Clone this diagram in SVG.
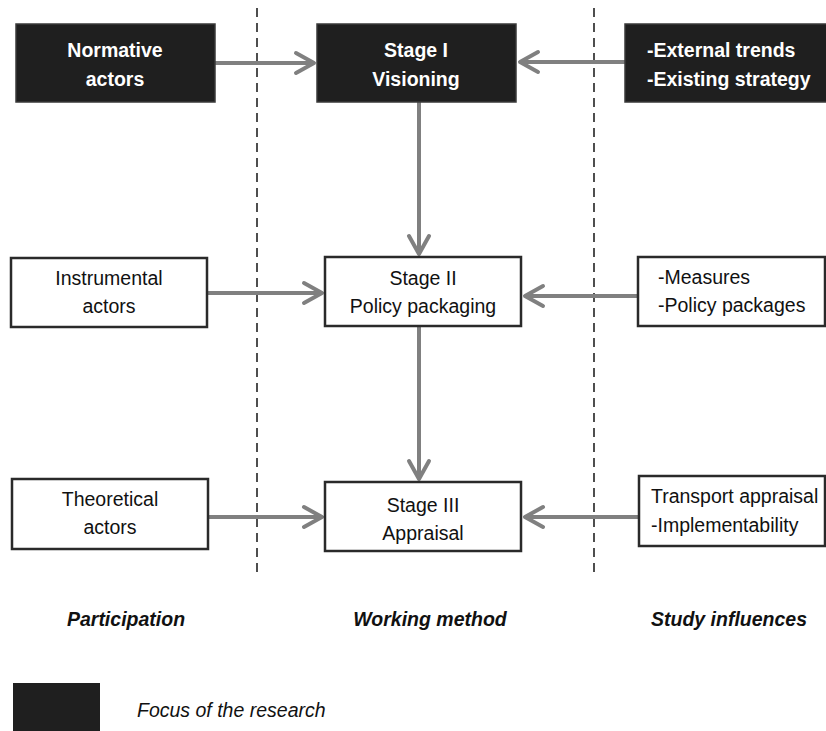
<svg xmlns="http://www.w3.org/2000/svg" width="826" height="731" viewBox="0 0 826 731">
<style>
text{font-family:"Liberation Sans",Arial,sans-serif;font-size:19.5px}
.dark rect{fill:#1f1f1f;stroke:#3a3a3a;stroke-width:1.5}
.dark text{fill:#fff;font-weight:bold}
.light rect{fill:#fff;stroke:#2a2a2a;stroke-width:2.5}
.light text{fill:#111}
.c{text-anchor:middle}
.conn line{stroke:#808080;stroke-width:4}
.conn path{fill:none;stroke:#808080;stroke-width:4;stroke-linecap:round;stroke-linejoin:round}
.div{stroke:#222;stroke-width:1.6;stroke-dasharray:9,6}
.lbl{font-weight:bold;font-style:italic;fill:#111;text-anchor:middle}
</style>
<rect width="826" height="731" fill="#fff"/>
<g id="dividers">
<line class="div" x1="257" y1="8" x2="257" y2="578"/>
<line class="div" x1="594" y1="8" x2="594" y2="578"/>
</g>
<g id="connectors" class="conn">
<line x1="215" y1="63" x2="314" y2="63"/><path d="M296,53 L314,63 L296,73"/>
<line x1="625" y1="62" x2="520" y2="62"/><path d="M538,52 L520,62 L538,72"/>
<line x1="419" y1="102" x2="419" y2="254"/><path d="M409,236 L419,254 L429,236"/>
<line x1="207" y1="293" x2="322" y2="293"/><path d="M304,283 L322,293 L304,303"/>
<line x1="638" y1="296" x2="525" y2="296"/><path d="M543,286 L525,296 L543,306"/>
<line x1="419" y1="326" x2="419" y2="479"/><path d="M409,461 L419,479 L429,461"/>
<line x1="208" y1="517" x2="322" y2="517"/><path d="M304,507 L322,517 L304,527"/>
<line x1="639" y1="517" x2="525" y2="517"/><path d="M543,507 L525,517 L543,527"/>
</g>
<g id="normative" class="dark">
<rect x="16" y="24" width="199" height="78"/>
<text class="c" x="115" y="57">Normative</text>
<text class="c" x="115" y="86">actors</text>
</g>
<g id="stage1" class="dark">
<rect x="317" y="24" width="199" height="78"/>
<text class="c" x="416" y="57">Stage I</text>
<text class="c" x="416" y="86">Visioning</text>
</g>
<g id="external" class="dark">
<rect x="625" y="24" width="202" height="78"/>
<text x="647" y="57">-External trends</text>
<text x="647" y="86">-Existing strategy</text>
</g>
<g id="instrumental" class="light">
<rect x="11" y="258" width="196" height="69"/>
<text class="c" x="109" y="285">Instrumental</text>
<text class="c" x="109" y="313">actors</text>
</g>
<g id="stage2" class="light">
<rect x="325" y="257" width="196" height="69"/>
<text class="c" x="423" y="285">Stage II</text>
<text class="c" x="423" y="313">Policy packaging</text>
</g>
<g id="measures" class="light">
<rect x="638" y="257" width="187" height="69"/>
<text x="658" y="284">-Measures</text>
<text x="658" y="312">-Policy packages</text>
</g>
<g id="theoretical" class="light">
<rect x="12" y="479" width="196" height="70"/>
<text class="c" x="110" y="506">Theoretical</text>
<text class="c" x="110" y="534">actors</text>
</g>
<g id="stage3" class="light">
<rect x="325" y="482" width="196" height="69"/>
<text class="c" x="423" y="512">Stage III</text>
<text class="c" x="423" y="540">Appraisal</text>
</g>
<g id="transport" class="light">
<rect x="639" y="476" width="186" height="70"/>
<text x="651" y="503">Transport appraisal</text>
<text x="651" y="532">-Implementability</text>
</g>
<g id="labels">
<text class="lbl" x="126" y="626">Participation</text>
<text class="lbl" x="430" y="626">Working method</text>
<text class="lbl" x="729" y="626">Study influences</text>
</g>
<g id="legend">
<rect x="13" y="683" width="87" height="48" fill="#1f1f1f"/>
<text x="137" y="717" style="font-style:italic;fill:#111">Focus of the research</text>
</g>
</svg>
